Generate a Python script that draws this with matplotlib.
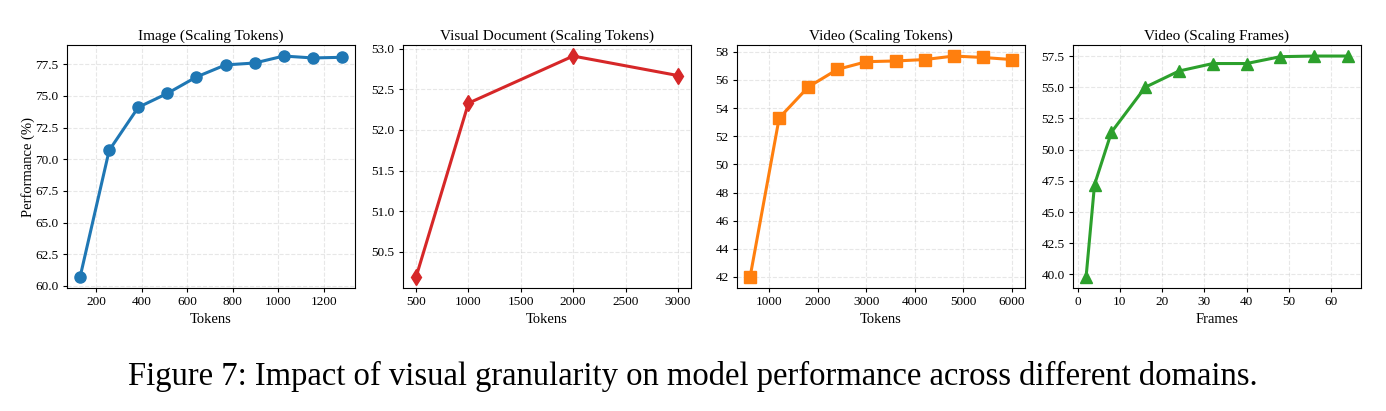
import matplotlib
matplotlib.use("Agg")
import matplotlib.pyplot as plt

plt.rcParams["font.family"] = ["Liberation Serif", "DejaVu Serif"]

# Image (Scaling Tokens)
image_tokens = [128, 256, 384, 512, 640, 768, 896, 1024, 1152, 1280]
image_perf = [60.7, 70.7, 74.1, 75.2, 76.5, 77.45, 77.6, 78.15, 78.0, 78.05]

# Visual Document (Scaling Tokens)
doc_tokens = [500, 1000, 2000, 3000]
doc_perf = [50.19, 52.33, 52.91, 52.67]

# Video (Scaling Tokens)
video_tokens = [600, 1200, 1800, 2400, 3000, 3600, 4200, 4800, 5400, 6000]
video_perf = [42.0, 53.3, 55.5, 56.75, 57.3, 57.35, 57.45, 57.7, 57.6, 57.45]

# Video (Scaling Frames)
video_frames = [2, 4, 8, 16, 24, 32, 40, 48, 56, 64]
frames_perf = [39.8, 47.2, 51.4, 55.0, 56.3, 56.9, 56.9, 57.45, 57.5, 57.5]

panels = [
    ("Image (Scaling Tokens)", image_tokens, image_perf, "#1f77b4", "o", "Tokens"),
    ("Visual Document (Scaling Tokens)", doc_tokens, doc_perf, "#d62728", "d", "Tokens"),
    ("Video (Scaling Tokens)", video_tokens, video_perf, "#ff7f0e", "s", "Tokens"),
    ("Video (Scaling Frames)", video_frames, frames_perf, "#2ca02c", "^", "Frames"),
]

W, H = 1386, 411
fig = plt.figure(figsize=(W / 100, H / 100), dpi=100)

lefts = [67, 403, 737, 1073]
width = 288
top, bottom = 45, 288

for i, (title, xs, ys, color, marker, xlabel) in enumerate(panels):
    ax = fig.add_axes([lefts[i] / W, 1 - bottom / H, width / W, (bottom - top) / H])
    ax.plot(xs, ys, color=color, marker=marker, linewidth=2.2, markersize=8)
    ax.set_title(title, fontsize=11, pad=4)
    ax.set_xlabel(xlabel, fontsize=10.5, labelpad=3)
    if i == 0:
        ax.set_ylabel("Performance (%)", fontsize=10.5, labelpad=0)
    ax.tick_params(labelsize=9.5, length=3, pad=3)
    ax.grid(True, linestyle="--", alpha=0.3)

fig.text(0.5, 1 - 376 / H, "Figure 7: Impact of visual granularity on model performance across different domains.",
         ha="center", va="center", fontsize=23.5)

fig.savefig("out.png", dpi=100)
